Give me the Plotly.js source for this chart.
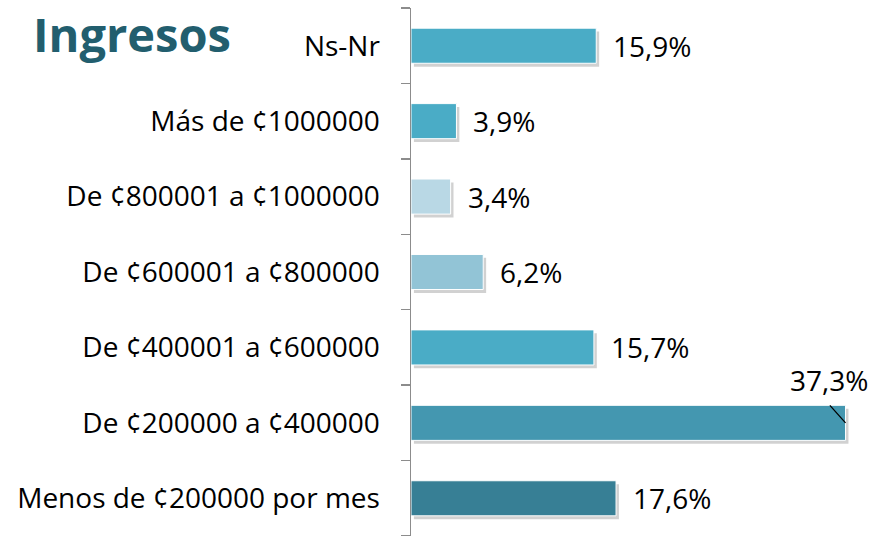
<!DOCTYPE html>
<html>
<head>
<meta charset="utf-8">
<script src="https://cdn.plot.ly/plotly-3.0.1.min.js"></script>
<style>html,body{margin:0;padding:0;background:#fff;}#chart{width:882px;height:536px;}</style>
</head>
<body>
<div id="chart"></div>
<script>
const categories = [
  "Menos de ¢200000 por mes",
  "De ¢200000 a ¢400000",
  "De ¢400001 a ¢600000",
  "De ¢600001 a ¢800000",
  "De ¢800001 a ¢1000000",
  "Más de ¢1000000",
  "Ns-Nr"
];
const values = [17.6, 37.3, 15.7, 6.2, 3.4, 3.9, 15.9];
const labels = ["17,6%", "37,3%", "15,7%", "6,2%", "3,4%", "3,9%", "15,9%"];
const colors = ["#377f95", "#4497b0", "#4aacc6", "#92c4d6", "#b9d8e5", "#4aacc6", "#4aacc6"];

const FONT = "Open Sans, sans-serif";
const W = 0.465;

const shadow = {
  type: "bar", orientation: "h",
  y: categories, x: values, base: 0.25,
  width: W, offset: -W/2 - 0.045,
  marker: {color: "rgba(0,0,0,0.18)"},
  hoverinfo: "skip", showlegend: false
};
const bars = {
  type: "bar", orientation: "h",
  y: categories, x: values,
  width: W, offset: -W/2,
  marker: {color: colors, line: {color: "#ffffff", width: 1}},
  showlegend: false
};

const annotations = [];
categories.forEach((c, i) => {
  if (i === 1) {
    annotations.push({x: values[i], y: i, xref: "x", yref: "y", text: "",
      showarrow: true, arrowhead: 0, arrowwidth: 1.3, arrowcolor: "#000",
      ax: -17, ay: -19});
    annotations.push({x: values[i], y: i, xref: "x", yref: "y", text: labels[i],
      showarrow: false, xanchor: "center", xshift: -17, yshift: 43,
      font: {family: FONT, size: 28, color: "#000"}});
  } else {
    annotations.push({x: values[i], y: i, xref: "x", yref: "y", text: labels[i],
      showarrow: false, xanchor: "left", xshift: 15,
      font: {family: FONT, size: 28, color: "#000"}});
  }
});

const layout = {
  width: 882, height: 536,
  margin: {l: 411, r: 5, t: 8, b: 0},
  paper_bgcolor: "#ffffff", plot_bgcolor: "#ffffff",
  bargap: 0.5, barmode: "overlay",
  title: {text: "<b>Ingresos</b>", xref: "container", yref: "container",
    x: 33/882, xanchor: "left", y: 1 - 36/536, yanchor: "middle",
    font: {family: FONT, size: 47, color: "#225e6e"}},
  xaxis: {range: [0, 40], visible: false, fixedrange: true},
  yaxis: {type: "category", range: [-0.5, 6.5], showline: true, linecolor: "#8c8c8c", linewidth: 1.5,
    ticks: "outside", tickson: "boundaries", ticklen: 9, tickcolor: "#8c8c8c", tickwidth: 1.5,
    ticklabelstandoff: 24, showgrid: false, zeroline: false,
    tickfont: {family: FONT, size: 28, color: "#000"}},
  annotations: annotations
};

Plotly.newPlot("chart", [shadow, bars], layout, {displayModeBar: false, staticPlot: true});
</script>
</body>
</html>
